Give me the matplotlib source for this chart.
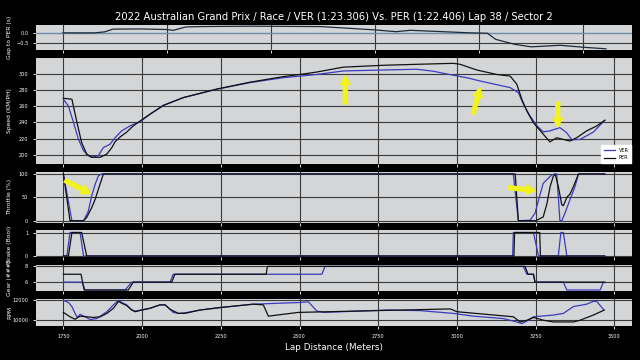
"""
Telemetry comparison: VER vs PER, 2022 Australian GP, lap 38 sector 2.
"""

import matplotlib.pyplot as plt

# gap panel uses elapsed sector time (s) on its x axis
gap_time = [0.0, 1.5, 2.0, 2.4, 3.7, 5.0, 5.3, 5.9, 6.6, 9.0, 12.4, 15.0, 16.0,
            16.7, 19.6, 20.4, 20.8, 21.7, 22.5, 23.9, 25.0, 26.1]
gap_to_per = [0.0, 0.0, 0.05, 0.19, 0.2, 0.17, 0.13, 0.3, 0.32, 0.34, 0.32, 0.15,
              0.06, 0.13, 0.0, -0.02, -0.33, -0.58, -0.71, -0.63, -0.73, -0.81]

ver_speed_dist = [1750, 1766, 1782, 1798, 1814, 1829, 1840, 1861, 1877, 1898, 1914,
                  1935, 1962, 1994, 2025, 2068, 2131, 2237, 2343, 2448, 2502, 2555,
                  2639, 2766, 2872, 2924, 2989, 3031, 3073, 3169, 3195, 3211, 3232,
                  3254, 3274, 3295, 3327, 3348, 3365, 3391, 3433, 3468]
ver_speed = [268.5, 260, 240, 219, 205, 199, 197, 199, 209, 213, 221, 229.5, 235.7,
             241, 250, 261, 270.5, 280.8, 289, 295, 297, 299, 303.3, 304.5, 305.4,
             303, 298, 295, 291, 282.8, 276.6, 262.4, 248, 235.7, 228.3, 229.5,
             233.5, 227.4, 218.5, 219, 228, 242]
per_speed_dist = [1750, 1777, 1793, 1808, 1824, 1840, 1867, 1888, 1904, 1914, 1930,
                  1951, 1972, 1994, 2025, 2068, 2131, 2237, 2343, 2448, 2502, 2555,
                  2639, 2766, 2872, 2989, 3010, 3063, 3126, 3169, 3190, 3206, 3222,
                  3242, 3274, 3295, 3317, 3338, 3359, 3380, 3412, 3444, 3470]
per_speed = [269.7, 268.5, 240, 215, 201, 197, 197, 201, 209, 216, 222, 228, 235.7,
             241.8, 250, 261, 270.5, 281, 289.5, 296.3, 299, 302, 308, 310.3, 311.5,
             312.7, 311.5, 304.5, 299, 297, 287, 268.5, 254, 240, 225.5, 216, 221,
             219, 217, 221, 229.5, 235.6, 242.7]

ver_thr_dist = [1750, 1777, 1814, 1829, 1840, 1851, 1861, 1872, 3179, 3195, 3232,
                3248, 3259, 3274, 3301, 3317, 3327, 3333, 3343, 3359, 3375, 3386, 3468]
ver_throttle = [100, 0, 0, 20, 53, 78, 96, 100, 100, 0, 1, 16, 44, 80, 98, 100, 0,
                0, 16, 45, 73, 100, 100]
per_thr_dist = [1750, 1771, 1814, 1824, 1840, 1851, 1861, 1877, 3185, 3195, 3250,
                3262, 3274, 3286, 3296, 3306, 3312, 3322, 3333, 3338, 3349, 3359,
                3370, 3386, 3470]
per_throttle = [100, 0, 0, 7, 28, 46, 67, 100, 100, 0, 0, 4, 8, 37, 73, 95, 100, 73,
                34, 32, 50, 57, 73, 100, 100]

ver_brake_dist = [1750, 1761, 1771, 1803, 1814, 3177, 3179, 3243, 3259, 3322, 3330,
                  3338, 3349, 3468]
ver_brake = [0, 0, 1, 1, 0, 0, 1, 1, 0, 0, 1, 1, 0, 0]
per_brake_dist = [1750, 1766, 1777, 1808, 1824, 3181, 3183, 3263, 3265, 3470]
per_brake = [0, 0, 1, 1, 0, 0, 1, 1, 0, 0]

ver_gear_dist = [1750, 1809, 1819, 1946, 1967, 2089, 2099, 2571, 2581, 3211, 3222,
                 3243, 3248, 3338, 3349, 3455, 3465]
ver_gear = [6, 6, 5, 5, 6, 6, 7, 7, 8, 8, 7, 7, 6, 6, 5, 5, 6]
per_gear_dist = [1750, 1806, 1816, 1956, 1972, 2094, 2104, 2394, 2398, 3216, 3226,
                 3243, 3248, 3470]
per_gear = [7, 7, 5, 5, 6, 6, 7, 7, 8, 8, 7, 7, 6, 6]

ver_rpm_dist = [1750, 1766, 1777, 1787, 1794, 1803, 1819, 1835, 1856, 1888, 1909,
                1925, 1935, 1951, 1967, 1978, 1999, 2025, 2057, 2073, 2089, 2099,
                2115, 2137, 2184, 2248, 2353, 2502, 2528, 2555, 2576, 2777, 2883,
                2989, 3052, 3147, 3190, 3206, 3227, 3243, 3306, 3338, 3370, 3412,
                3433, 3444, 3465]
ver_rpm = [12000, 11790, 11380, 10690, 10280, 10590, 10350, 10070, 10170, 10860,
           11550, 12000, 11790, 11550, 11040, 10930, 11040, 11200, 11550, 11550,
           11100, 10790, 10690, 10750, 11030, 11280, 11620, 11790, 11860, 10930,
           10790, 11030, 10970, 10690, 10410, 10170, 9830, 9660, 10000, 10350,
           10520, 10690, 11380, 11620, 11900, 11900, 11100]
per_rpm_dist = [1750, 1771, 1787, 1803, 1824, 1845, 1867, 1888, 1909, 1925, 1935,
                1951, 1967, 1978, 1999, 2025, 2057, 2073, 2089, 2115, 2137, 2184,
                2248, 2353, 2385, 2401, 2496, 2979, 3000, 3179, 3201, 3222, 3243,
                3275, 3306, 3370, 3391, 3433, 3468]
per_rpm = [10790, 10350, 10100, 10410, 10350, 10280, 10350, 10690, 11210, 11900,
           11720, 11480, 11030, 10860, 11030, 11210, 11550, 11550, 11100, 10690,
           10700, 11030, 11280, 11620, 11550, 10410, 10790, 11140, 10860, 10350,
           9830, 10000, 10280, 10000, 9830, 9830, 10000, 10520, 11030]

dist_ticks = [1750, 2000, 2250, 2500, 2750, 3000, 3250, 3500]

VER_COLOUR = "#3b3bbf"
PER_COLOUR = "#111111"
PANEL_COLOUR = "#d3d5d7"
ARROW_COLOUR = "#f2f21c"


def style_panel(ax, ylabel, yticks, ylim):
    ax.set_facecolor(PANEL_COLOUR)
    ax.grid(True, color="#3a3a3a", linewidth=0.8)
    ax.set_axisbelow(True)
    ax.set_yticks(yticks)
    ax.set_ylim(ylim)
    ax.tick_params(colors="white", labelsize=3.6, length=2, width=0.6)
    ax.set_ylabel(ylabel, color="white", fontsize=4.3)
    ax.yaxis.set_label_coords(-0.04, 0.5)
    for spine in ax.spines.values():
        spine.set_visible(False)


def add_arrow(ax, tail, head):
    ax.annotate(
        "", xy=head, xytext=tail,
        arrowprops=dict(
            arrowstyle="simple,head_length=0.9,head_width=1.0,tail_width=0.4",
            color=ARROW_COLOUR, mutation_scale=7, shrinkA=0, shrinkB=0,
        ),
        zorder=5,
    )


fig = plt.figure(figsize=(6.4, 3.6), dpi=100, facecolor="black")
gs = fig.add_gridspec(
    6, 1, height_ratios=[25, 106, 51, 27, 26, 27],
    left=36 / 640, right=632 / 640, top=1 - 25 / 360, bottom=1 - 326 / 360,
    hspace=0.179,
)

ax_gap = fig.add_subplot(gs[0])
ax_speed = fig.add_subplot(gs[1])
ax_thr = fig.add_subplot(gs[2], sharex=ax_speed)
ax_brake = fig.add_subplot(gs[3], sharex=ax_speed)
ax_gear = fig.add_subplot(gs[4], sharex=ax_speed)
ax_rpm = fig.add_subplot(gs[5], sharex=ax_speed)

# gap to PER
ax_gap.plot(gap_time, gap_to_per, color="#1e2a36", linewidth=0.9)
ax_gap.axhline(0, color="#6d8fb0", linewidth=0.9, zorder=1)
style_panel(ax_gap, "Gap to PER (s)", [0.0, -0.5], (-0.87, 0.40))
ax_gap.set_yticklabels(["0.0", "\u22120.5"])
ax_gap.set_xlim(-1.3, 27.35)
ax_gap.set_xticks([0, 5, 10, 15, 20, 25])
ax_gap.tick_params(axis="x", labelbottom=False)

# speed
ax_speed.plot(ver_speed_dist, ver_speed, color=VER_COLOUR, linewidth=0.9, label="VER")
ax_speed.plot(per_speed_dist, per_speed, color=PER_COLOUR, linewidth=0.9, label="PER")
style_panel(ax_speed, "Speed (KM/PH)", range(200, 301, 20), (189, 319.5))
ax_speed.legend(loc="lower right", fontsize=3.6, frameon=True, fancybox=False,
                framealpha=1, facecolor="white", edgecolor="white",
                handlelength=2.2, borderpad=0.5, borderaxespad=0.2)
add_arrow(ax_speed, (2645, 262.7), (2645, 297.5))
add_arrow(ax_speed, (3051, 250.4), (3073, 282.4))
add_arrow(ax_speed, (3320, 265), (3320, 234.4))

# throttle
ax_thr.plot(ver_thr_dist, ver_throttle, color=VER_COLOUR, linewidth=0.9)
ax_thr.plot(per_thr_dist, per_throttle, color=PER_COLOUR, linewidth=0.9)
style_panel(ax_thr, "Throttle (%)", [0, 50, 100], (-4, 105))
add_arrow(ax_thr, (1755, 86), (1835, 58))
add_arrow(ax_thr, (3162, 71), (3248, 64))

# brake
ax_brake.plot(ver_brake_dist, ver_brake, color=VER_COLOUR, linewidth=0.9)
ax_brake.plot(per_brake_dist, per_brake, color=PER_COLOUR, linewidth=0.9)
style_panel(ax_brake, "Brake (Bool)", [0, 1], (-0.06, 1.09))

# gear
ax_gear.plot(ver_gear_dist, ver_gear, color=VER_COLOUR, linewidth=0.9)
ax_gear.plot(per_gear_dist, per_gear, color=PER_COLOUR, linewidth=0.9)
style_panel(ax_gear, "Gear (###)", [6, 8], (4.85, 8.15))

# rpm
ax_rpm.plot(ver_rpm_dist, ver_rpm, color=VER_COLOUR, linewidth=0.9)
ax_rpm.plot(per_rpm_dist, per_rpm, color=PER_COLOUR, linewidth=0.9)
style_panel(ax_rpm, "RPM", [10000, 12000], (9420, 12140))

ax_speed.set_xlim(1663, 3556)
ax_speed.set_xticks(dist_ticks)
for ax in [ax_speed, ax_thr, ax_brake, ax_gear]:
    ax.tick_params(axis="x", labelbottom=False)
ax_rpm.set_xlabel("Lap Distance (Meters)", color="white", fontsize=6.4, labelpad=3)

fig.text(0.521, 1 - 16.5 / 360,
         "2022 Australian Grand Prix / Race / VER (1:23.306) Vs. PER (1:22.406) "
         "Lap 38 / Sector 2",
         color="white", fontsize=7.2, ha="center", va="center")

fig.savefig("out.png", dpi=100, facecolor="black")
